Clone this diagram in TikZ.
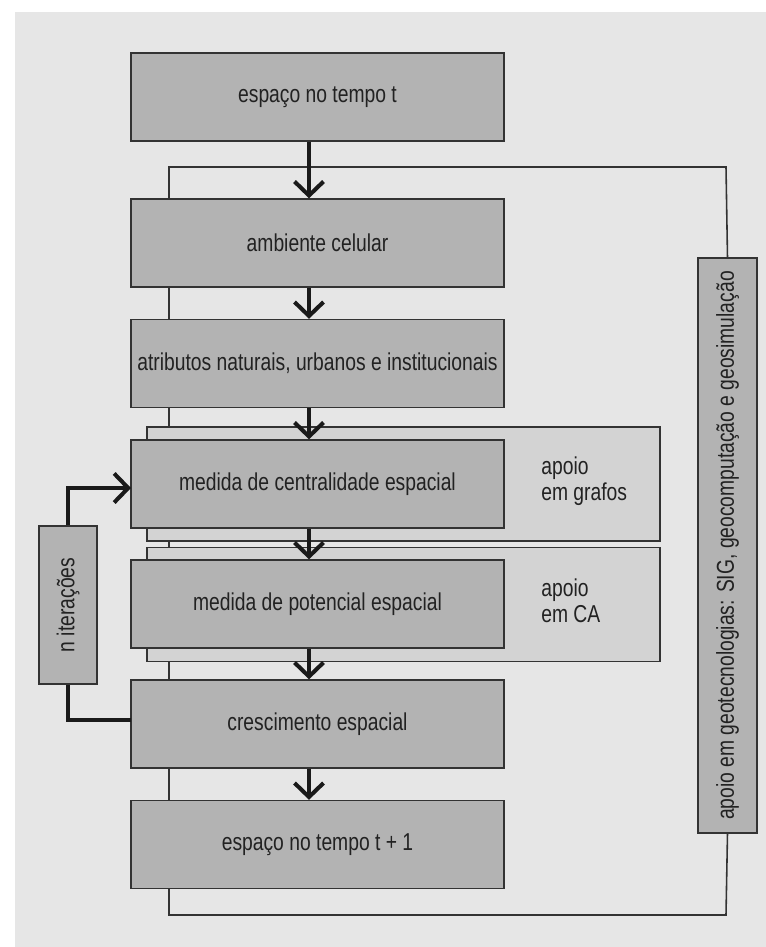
\documentclass[tikz,border=0pt]{standalone}
\usepackage{fontspec}
\setmainfont{Liberation Sans}[FakeStretch=0.79]
\usetikzlibrary{arrows.meta}
\definecolor{bgcol}{HTML}{E6E6E6}
\definecolor{boxcol}{HTML}{B3B3B3}
\definecolor{supcol}{HTML}{D3D3D3}
\definecolor{edgecol}{HTML}{333333}
\definecolor{txtcol}{HTML}{222222}
\definecolor{flowcol}{HTML}{1A1A1A}
\tikzset{
  stagebox/.style={draw=edgecol, line width=0.8pt, fill=boxcol, text=txtcol,
    minimum width=7.46cm, minimum height=1.76cm, inner sep=0pt,
    font=\fontsize{13.9}{16}\selectfont},
  supportbox/.style={draw=edgecol, line width=0.8pt, fill=supcol,
    minimum width=10.26cm, minimum height=2.28cm, inner sep=0pt},
  supportlabel/.style={anchor=west, align=left, text=txtcol, inner sep=0pt,
    font=\fontsize{13.9}{15}\selectfont},
  sidebox/.style={draw=edgecol, line width=0.8pt, fill=boxcol, text=txtcol,
    inner sep=0pt, font=\fontsize{13.9}{16}\selectfont},
  frameline/.style={draw=edgecol, line width=0.9pt},
  flow/.style={draw=flowcol, line width=2.3pt,
    -{Straight Barb[length=2.8mm,width=5.8mm]}},
  loopline/.style={draw=flowcol, line width=2.3pt},
}
\begin{document}
\begin{tikzpicture}[x=0.02cm, y=-0.02cm]
  % page and grey panel
  \useasboundingbox (0,0) rectangle (766,947);
  \fill[bgcol] (15,12) rectangle (766,947);

  % frame joining the geotechnology support box
  \coordinate (geotop) at (727.5,258);
  \coordinate (geobot) at (727.5,833);
  \draw[frameline] (geotop) -- (726,167) -- (169,167) -- (169,915)
    -- (726,915) -- (geobot);
  \node[sidebox, minimum width=1.18cm, minimum height=11.5cm] (geo) at (727.5,545.5)
    {\rotatebox{90}{apoio em geotecnologias: SIG, geocomputação e geosimulação}};

  % support panels behind the measures
  \node[supportbox] (graphs) at (403.5,484) {};
  \node[supportbox] (cells) at (403.5,604.5) {};
  \node[supportlabel] (graphslbl) at (541,481) {apoio\\em grafos};
  \node[supportlabel] (cellslbl) at (541,601) {apoio\\em CA};

  % main stages
  \node[stagebox] (s1) at (317.5,97) {espaço no tempo t};
  \node[stagebox] (s2) at (317.5,243) {ambiente celular};
  \node[stagebox] (s3) at (317.5,363.5) {atributos naturais, urbanos e institucionais};
  \node[stagebox] (s4) at (317.5,484) {medida de centralidade espacial};
  \node[stagebox] (s5) at (317.5,604) {medida de potencial espacial};
  \node[stagebox] (s6) at (317.5,724) {crescimento espacial};
  \node[stagebox] (s7) at (317.5,844.5) {espaço no tempo t + 1};

  % iteration box
  \node[sidebox, minimum width=1.16cm, minimum height=3.16cm] (iter) at (68,605)
    {\rotatebox{90}{n iterações}};

  % flow arrows
  \coordinate (ax) at (309,0);
  \draw[flow] (s1.south -| ax) -- (s2.north -| ax);
  \draw[flow] (s2.south -| ax) -- (s3.north -| ax);
  \draw[flow] (s3.south -| ax) -- (s4.north -| ax);
  \draw[flow] (s4.south -| ax) -- (s5.north -| ax);
  \draw[flow] (s5.south -| ax) -- (s6.north -| ax);
  \draw[flow] (s6.south -| ax) -- (s7.north -| ax);

  % iteration loop
  \coordinate (loopin) at (131,488);
  \coordinate (loopout) at (131,720);
  \draw[loopline, line cap=butt] (loopout) -| (iter.south);
  \draw[flow] (iter.north) |- (loopin);
\end{tikzpicture}
\end{document}
